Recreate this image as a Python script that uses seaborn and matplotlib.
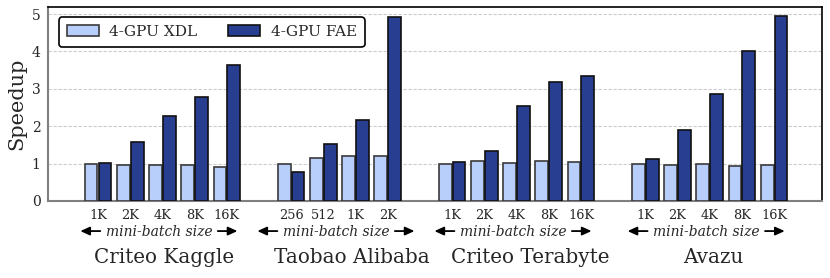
import numpy as np
import pandas as pd
import matplotlib
matplotlib.use("Agg")
import matplotlib.pyplot as plt
import seaborn as sns

# ---- data ----
datasets = ["Criteo Kaggle", "Taobao Alibaba", "Criteo Terabyte", "Avazu"]
batch_labels = [
    ["1K", "2K", "4K", "8K", "16K"],
    ["256", "512", "1K", "2K"],
    ["1K", "2K", "4K", "8K", "16K"],
    ["1K", "2K", "4K", "8K", "16K"],
]
xdl_speedup = [
    [1.00, 0.97, 0.97, 0.97, 0.90],
    [1.00, 1.15, 1.20, 1.20],
    [1.00, 1.08, 1.02, 1.06, 1.05],
    [1.00, 0.95, 0.98, 0.93, 0.96],
]
fae_speedup = [
    [1.01, 1.57, 2.27, 2.78, 3.65],
    [0.78, 1.52, 2.17, 4.93],
    [1.03, 1.35, 2.55, 3.18, 3.35],
    [1.12, 1.90, 2.86, 4.00, 4.95],
]
series_names = ["4-GPU XDL", "4-GPU FAE"]

# ---- layout ----
label_shift = [0.05, 0.37, 0.43, 0.12]
sns.set_style("white")
plt.rcParams["font.family"] = ["DejaVu Serif"]
plt.rcParams["mathtext.fontset"] = "dejavuserif"

colors = ["#b9cffb", "#283f91"]
edgecolors = ["#3a3a3a", "#111111"]

rows = []
group_pos = []
separators = []
tick_pos, tick_lab = [], []
start = 0
for g, name in enumerate(datasets):
    n = len(batch_labels[g])
    pos = list(range(start, start + n))
    group_pos.append(pos)
    for i, p in enumerate(pos):
        rows.append({"pos": p, "speedup": xdl_speedup[g][i], "system": series_names[0]})
        rows.append({"pos": p, "speedup": fae_speedup[g][i], "system": series_names[1]})
        tick_pos.append(p)
        tick_lab.append(batch_labels[g][i])
    start += n
    if g < len(datasets) - 1:
        separators.append(start)
        start += 1
df = pd.DataFrame(rows)

fig, ax = plt.subplots(figsize=(8.3, 2.78), dpi=100)
fig.subplots_adjust(left=0.058, right=0.990, top=0.975, bottom=0.277)

sns.barplot(data=df, x="pos", y="speedup", hue="system", native_scale=True,
            palette=colors, hue_order=series_names, width=0.86, gap=0.08, ax=ax,
            linewidth=1.2, saturation=1, legend=True, zorder=3)
for cont, ec in zip(ax.containers, edgecolors):
    for bar in cont:
        bar.set_edgecolor(ec)
        bar.set_linewidth(1.2)

ax.set_xlim(-1.55, start - 1 + 1.48)
ax.set_ylim(0, 5.19)
ax.set_yticks([0, 1, 2, 3, 4, 5])
ax.set_yticklabels(["0", "1", "2", "3", "4", "5"], fontsize=10)
ax.set_ylabel("Speedup", fontsize=15, labelpad=4)
ax.set_xlabel("")

all_ticks = tick_pos + separators
all_labels = tick_lab + [""] * len(separators)
ax.set_xticks(all_ticks)
ax.set_xticklabels(all_labels, fontsize=9.3)
ax.tick_params(axis="x", direction="out", length=3.5, width=1, color="#555555", pad=2)
ax.tick_params(axis="y", direction="out", length=3.5, width=1, color="#555555", pad=2)

ax.yaxis.grid(True, linestyle=(0, (3, 1.5)), color="#cccccc", linewidth=0.8, zorder=0)
ax.set_axisbelow(True)
for side in ["left", "bottom"]:
    ax.spines[side].set_color("#808080")
    ax.spines[side].set_linewidth(1.5)
for side in ["top", "right"]:
    ax.spines[side].set_color("black")
    ax.spines[side].set_linewidth(1.2)
    ax.spines[side].set_visible(True)

trans = ax.get_xaxis_transform()
arrow_style = dict(arrowstyle="-|>,head_length=0.55,head_width=0.25", color="black", lw=1.3,
                   shrinkA=0, shrinkB=0)
for g, name in enumerate(datasets):
    c = np.mean(group_pos[g])
    ax.text(c - 0.11, -0.16, "mini-batch size", transform=trans, ha="center", va="center",
            fontsize=10, style="italic")
    ax.annotate("", xy=(c - 2.55, -0.155), xytext=(c - 1.93, -0.155), xycoords=trans,
                textcoords=trans, annotation_clip=False, arrowprops=arrow_style)
    ax.annotate("", xy=(c + 2.33, -0.155), xytext=(c + 1.72, -0.155), xycoords=trans,
                textcoords=trans, annotation_clip=False, arrowprops=arrow_style)
    ax.text(c + label_shift[g], -0.29, name, transform=trans, ha="center", va="center",
            fontsize=14.3)

leg = ax.legend(loc="upper left", bbox_to_anchor=(0.004, 0.985), ncol=2, fontsize=11,
                frameon=True, fancybox=True, edgecolor="black", framealpha=1,
                handlelength=2.1, handleheight=0.75, handletextpad=0.7, columnspacing=2.0,
                borderpad=0.5, title=None)
leg.get_frame().set_linewidth(1.2)
for h, ec in zip(leg.legend_handles, edgecolors):
    h.set_edgecolor(ec)
    h.set_linewidth(1.2)

fig.savefig("out.png", dpi=100)
